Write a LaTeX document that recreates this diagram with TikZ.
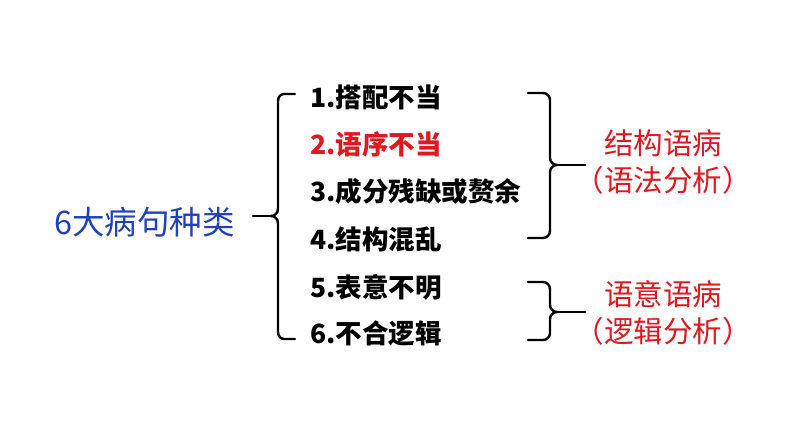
\documentclass[tikz,border=0pt]{standalone}
\usepackage{fontspec}
\newfontfamily\cjk{Noto Sans CJK SC}
\usetikzlibrary{positioning}
\definecolor{kindblue}{RGB}{32,64,192}
\definecolor{errred}{RGB}{228,22,30}

\tikzset{
  item/.style={anchor=west, inner sep=0pt, font=\cjk\bfseries\fontsize{26.5}{26.5}\selectfont},
  group/.style={inner sep=0pt, align=center, text=errred, font=\cjk\fontsize{29.5}{37}\selectfont},
  brace/.style={line width=2.4pt, line cap=round, line join=round},
}

\begin{document}
\begin{tikzpicture}[x=1pt,y=1pt]
		\useasboundingbox (0,0) rectangle (794,447);
		\node (kinds) [anchor=west, inner sep=0pt, text=kindblue, font=\cjk\fontsize{32.5}{32.5}\selectfont] at (54,225) {6大病句种类};

		\node (i1) [item] at (310,350) {1.搭配不当};
		\node[below=47pt of i1.west] (i2) [item, text=errred] {2.语序不当};
		\node[below=47pt of i2.west] (i3) [item] {3.成分残缺或赘余};
		\node[below=48pt of i3.west] (i4) [item] {4.结构混乱};
		\node[below=48pt of i4.west] (i5) [item] {5.表意不明};
		\node[below=46pt of i5.west] (i6) [item] {6.不合逻辑};

		\coordinate (lt) at (271,231);
		\draw [brace] (295,353) -- (284,353) to[out=180,in=90] (278,346) -- (278,238) to[out=-90,in=0] (lt)
			to[out=0,in=90] (278,224) -- (278,115) to[out=-90,in=180] (284,108) -- (295,108);
		\draw [brace] (lt) -- ([xshift=18pt]kinds.east |- lt);

		\node (g1) [group] at (663,285) {结构语病\\（语法分析）};
		\coordinate (rt1) at (557,282);
		\draw [brace] (528,354) -- (543,354) to[out=0,in=90] (550,347) -- (550,289) to[out=-90,in=180] (rt1)
			to[out=180,in=90] (550,275) -- (550,216) to[out=-90,in=0] (543,209) -- (528,209);
		\draw [brace] (rt1) -- ([xshift=11pt]g1.west |- rt1);

		\node (g2) [group] at (663,134) {语意语病\\（逻辑分析）};
		\coordinate (rt2) at (557,135);
		\draw [brace] (528,165) -- (543,165) to[out=0,in=90] (550,158) -- (550,142) to[out=-90,in=180] (rt2)
			to[out=180,in=90] (550,128) -- (550,114) to[out=-90,in=0] (543,107) -- (528,107);
		\draw [brace] (rt2) -- ([xshift=11pt]g2.west |- rt2);
\end{tikzpicture}
\end{document}
